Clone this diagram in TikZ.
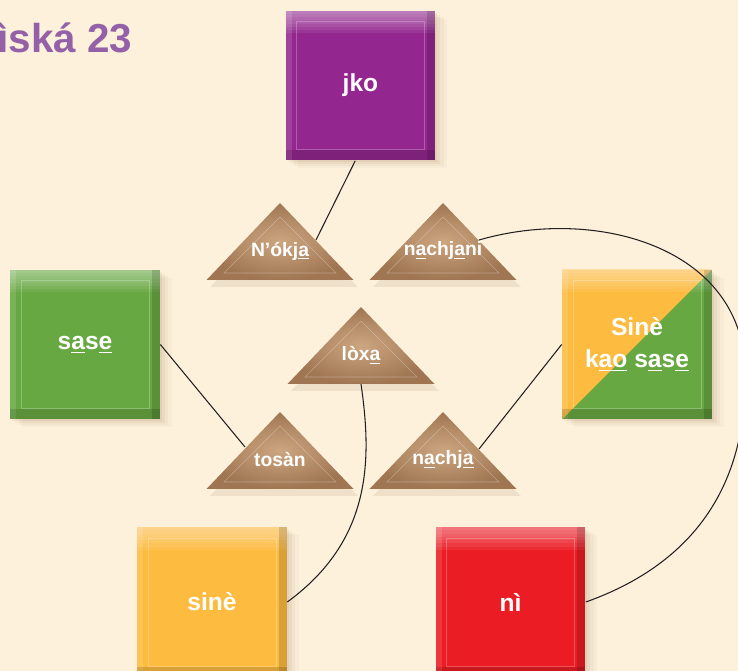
\documentclass[tikz,border=0pt]{standalone}
\usepackage{fontspec}
\setmainfont{Liberation Sans}
\usepackage{tikz}
\usetikzlibrary{calc,shadows}

\definecolor{paper}{RGB}{253,241,220}
\definecolor{titlepurple}{RGB}{148,96,168}
\definecolor{jkopurple}{RGB}{147,39,143}
\definecolor{sasegreen}{RGB}{104,168,66}
\definecolor{sineorange}{RGB}{253,187,64}
\definecolor{nired}{RGB}{235,28,36}
\definecolor{roofbrown}{RGB}{160,118,82}
\definecolor{rooflight}{RGB}{204,166,128}
\definecolor{wire}{RGB}{35,31,32}

\def\tilegloss{
	\foreach \k in {1,...,7}
		\fill[white, opacity=.07] (path picture bounding box.north west) rectangle ([yshift={-\k*0.065cm}]path picture bounding box.north east);
	\fill[white, opacity=.12] (path picture bounding box.north west) rectangle ([xshift=.12cm]path picture bounding box.south west);
	\fill[black, opacity=.14] ([xshift=-.16cm]path picture bounding box.north east) rectangle (path picture bounding box.south east);
	\fill[black, opacity=.14] ([yshift=.2cm]path picture bounding box.south west) rectangle (path picture bounding box.south east);
	\draw[white, opacity=.25, line width=.3pt] ([shift={(.22cm,-.22cm)}]path picture bounding box.north west) rectangle ([shift={(-.22cm,.22cm)}]path picture bounding box.south east);
}
\def\roof(#1,#2)#3#4{
	\fill[brown!60!black, opacity=.10] (#1-70,#2+84) -- (#1+3,#2+10) -- (#1+78,#2+84) -- cycle;
	\shade[inner color=rooflight, outer color=roofbrown] (#1-73.5,#2+77) -- (#1,#2) -- (#1+73.5,#2+77) -- cycle;
	\draw[white, opacity=.3, line width=.3pt] (#1-56,#2+70) -- (#1,#2+14) -- (#1+56,#2+70) -- cycle;
	\node[word] (#3) at (#1,#2+48) {#4};
	\coordinate (#3-l) at (#1-35,#2+35);
	\coordinate (#3-r) at (#1+36,#2+37);
	\coordinate (#3-b) at (#1,#2+77);
}

\tikzset{
	tile/.style={minimum size=3cm, inner sep=0pt, text=white, align=center,
		font=\fontsize{14}{18}\selectfont\bfseries,
		drop shadow={shadow xshift=.24cm, shadow yshift=-.16cm, fill=brown!70!black, opacity=.04},
		drop shadow={shadow xshift=.17cm, shadow yshift=-.12cm, fill=brown!70!black, opacity=.05},
		drop shadow={shadow xshift=.1cm, shadow yshift=-.08cm, fill=brown!70!black, opacity=.06},
		drop shadow={shadow xshift=.04cm, shadow yshift=-.04cm, fill=brown!70!black, opacity=.08},
		path picture={\tilegloss}},
	mixtile/.style={tile, fill=sasegreen,
		path picture={\fill[sineorange] (path picture bounding box.north west) -- (path picture bounding box.north east) -- (path picture bounding box.south west) -- cycle; \tilegloss}},
	word/.style={text=white, font=\fontsize{11}{13}\selectfont\bfseries, inner sep=1pt},
	wire/.style={draw=wire, line width=.6pt}
}

\begin{document}
\begin{tikzpicture}[x=0.02cm, y=-0.02cm]
	%%%%% START %%%%%
	\useasboundingbox (0,0) rectangle (738,671);
	\clip (0,0) rectangle (738,671);
	\fill[paper] (0,0) rectangle (738,671);
	
	\node[anchor=base west, inner sep=0pt, text=titlepurple, font=\fontsize{23}{27}\selectfont\bfseries] (title) at (-3,53) {ìská 23};
	
	\roof(280,203){nokja}{N’ókj\underline{a}}
	\roof(443,203){nachjani}{n\underline{a}chj\underline{a}ni}
	\roof(361,307){loxa}{lòx\underline{a}}
	\roof(280,412){tosan}{tosàn}
	\roof(443,412){nachja}{n\underline{a}chj\underline{a}}
	
	\node[tile, fill=jkopurple] (jko) at (360.5,85.5) {jko};
	\node[tile, fill=sasegreen] (sase) at (85,344.5) {s\underline{a}s\underline{e}};
	\node[mixtile] (mix) at (637,344.5) {Sinè\\k\underline{a}\underline{o} s\underline{a}s\underline{e}};
	\node[tile, fill=sineorange] (sine) at (212,602) {sinè};
	\node[tile, fill=nired] (ni) at (510.5,602) {nì};
	
	\draw[wire] (jko.-94) -- (nokja-r);
	\draw[wire] (sase.east) -- (tosan-l);
	\draw[wire] (mix.west) -- (nachja-r);
	\draw[wire] (loxa-b) .. controls (372,460) and (372,540) .. (sine.east);
	\draw[wire] (nachjani-r) .. controls (600,205) and (750,250) .. (745,380) .. controls (745,490) and (690,565) .. (ni.east);
	
	%%%%% END %%%%%
\end{tikzpicture}
\end{document}
